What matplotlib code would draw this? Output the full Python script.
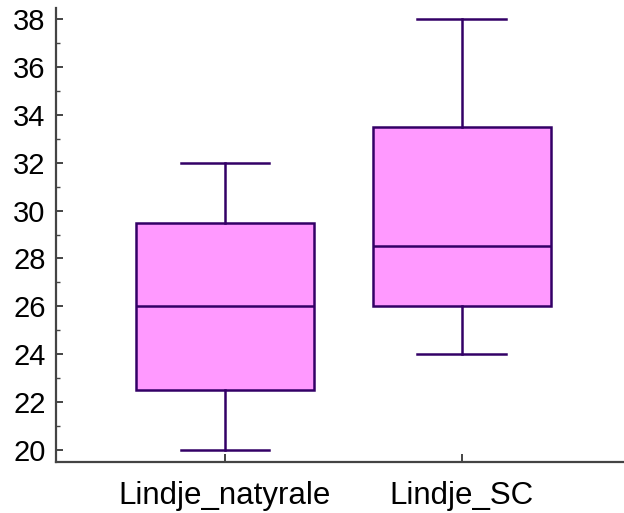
import matplotlib
matplotlib.use("Agg")
import matplotlib.pyplot as plt
from matplotlib.ticker import MultipleLocator

# box values
categories = ["Lindje_natyrale", "Lindje_SC"]
medians = [26.0, 28.5]
q1s = [22.5, 26.0]
q3s = [29.5, 33.5]
whisk_lo = [20.0, 24.0]
whisk_hi = [32.0, 38.0]

plt.rcParams['font.family'] = ['Liberation Sans', 'DejaVu Sans']

edge = '#330066'
fill = '#FF99FF'
spine_col = '#444444'

fig = plt.figure(figsize=(6.24, 5.13), dpi=100)
ax = fig.add_axes([56 / 624, 1 - 462 / 513, 1 - 56 / 624, (462 - 8) / 513])

stats = []
for i, name in enumerate(categories):
    stats.append(dict(label=name, med=medians[i], q1=q1s[i], q3=q3s[i],
                      whislo=whisk_lo[i], whishi=whisk_hi[i], fliers=[]))

ax.bxp(stats, positions=[0, 1], widths=0.75, patch_artist=True,
       showfliers=False,
       boxprops=dict(facecolor=fill, edgecolor=edge, linewidth=1.8),
       medianprops=dict(color=edge, linewidth=1.8),
       whiskerprops=dict(color=edge, linewidth=1.8),
       capprops=dict(color=edge, linewidth=1.8),
       capwidths=0.375)

ax.set_xlim(-0.713, 1.684)
ax.set_ylim(19.5, 38.46)
ax.yaxis.set_major_locator(MultipleLocator(2))
ax.yaxis.set_minor_locator(MultipleLocator(1))

for s in ['top', 'right']:
    ax.spines[s].set_visible(False)
for s in ['left', 'bottom']:
    ax.spines[s].set_color(spine_col)
    ax.spines[s].set_linewidth(1.6)

ax.tick_params(axis='y', which='major', direction='in', length=5, width=1.4,
               color=spine_col, labelsize=21, pad=7.5)
ax.tick_params(axis='y', which='minor', direction='in', length=3, width=1.0,
               color=spine_col)
ax.tick_params(axis='x', which='major', direction='in', length=6, width=1.4,
               color=spine_col, labelsize=22.5, pad=14)

fig.savefig("out.png", dpi=100)
